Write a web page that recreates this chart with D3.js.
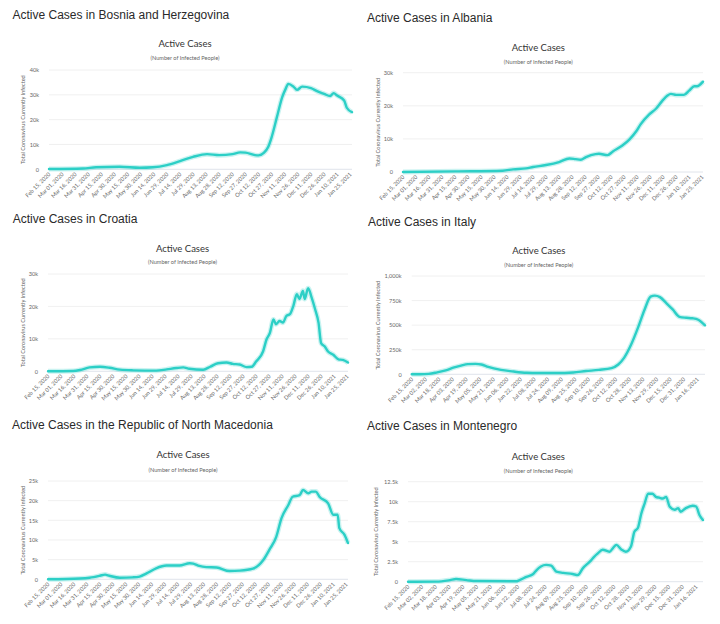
<!DOCTYPE html>
<html>
<head>
<meta charset="utf-8">
<script src="https://cdn.jsdelivr.net/npm/d3@7"></script>
<style>
  html, body { margin: 0; padding: 0; background: #fff; }
  svg { display: block; }
</style>
</head>
<body>
<svg id="chart" width="720" height="624"></svg>
<script>
// ---------- DATA ----------
const labels15 = ["Feb 15, 2020","Mar 01, 2020","Mar 16, 2020","Mar 31, 2020","Apr 15, 2020","Apr 30, 2020","May 15, 2020","May 30, 2020","Jun 14, 2020","Jun 29, 2020","Jul 14, 2020","Jul 29, 2020","Aug 13, 2020","Aug 28, 2020","Sep 12, 2020","Sep 27, 2020","Oct 12, 2020","Oct 27, 2020","Nov 11, 2020","Nov 26, 2020","Dec 11, 2020","Dec 26, 2020","Jan 10, 2021","Jan 25, 2021"];
const labels16 = ["Feb 15, 2020","Mar 02, 2020","Mar 18, 2020","Apr 03, 2020","Apr 19, 2020","May 05, 2020","May 21, 2020","Jun 06, 2020","Jun 22, 2020","Jul 08, 2020","Jul 24, 2020","Aug 09, 2020","Aug 25, 2020","Sep 10, 2020","Sep 26, 2020","Oct 12, 2020","Oct 28, 2020","Nov 13, 2020","Nov 29, 2020","Dec 15, 2020","Dec 31, 2020","Jan 16, 2021"];

// day offsets from Feb 15, 2020 and active cases
const bosniaDay = [0,39,54,81,104,119,135,150,165,181,195,210,219,225,236,240,246,251,255,261,267,271,274,280,284,290,300,307,315,322,326,330,338,341,347];
const bosniaVal = [100,300,800,1000,600,800,1700,3300,5000,6100,5700,6100,6800,6700,5700,5600,6600,9000,13000,21000,29000,32400,34400,33300,32000,33300,32700,31500,30400,29500,30700,29700,27700,24800,23000];

const albaniaDay = [0,61,115,127,142,150,165,180,192,199,205,211,222,226,236,242,253,261,269,274,284,292,299,305,309,315,324,330,336,339,346];
const albaniaVal = [0,200,400,800,1100,1500,2100,3000,4100,3900,3700,4500,5400,5500,5100,6200,8000,9800,12300,14400,17400,19200,21500,23100,23600,23300,23300,24600,25900,25900,27300];

const croatiaDay = [0,29,37,48,60,71,83,98,125,137,148,156,163,179,187,196,206,213,221,229,235,240,248,252,256,260,263,267,271,275,279,283,287,290,294,296,300,304,308,312,315,319,323,329,335,340,346];
const croatiaVal = [0,100,400,1200,1400,1100,500,300,200,600,1000,1200,800,500,1400,2500,2700,2300,2100,1300,1400,3000,6100,9800,11900,16000,14500,15500,15000,17100,17600,20200,23800,22300,24800,22300,25600,22800,19200,15000,8700,7700,6100,5100,3700,3500,2700];

const italyDay = [0,10,20,30,40,50,58,66,75,82,90,105,120,135,150,170,190,205,220,235,243,250,258,266,274,281,286,292,300,307,315,323,330,337,345];
const italyVal = [0,300,3900,20000,40000,70000,88000,103000,106000,100000,75000,45000,28000,16000,13000,12500,19000,33000,45000,63000,100000,170000,300000,470000,660000,790000,800000,785000,720000,660000,585000,575000,570000,555000,497000];

const macedoniaDay = [0,37,48,60,66,71,83,98,106,114,125,137,152,164,168,175,183,195,210,222,237,249,256,264,270,278,283,291,295,301,305,310,314,324,330,335,337,343,347];
const macedoniaVal = [0,200,400,900,1200,900,400,500,700,1500,2800,3500,3500,4100,4000,3400,3100,3000,2100,2200,2700,4900,7500,10800,15500,18900,21000,21400,22700,21900,22300,22300,21000,19300,16400,16400,13000,11300,9200];

const montenegroDay = [0,33,49,56,68,80,126,130,138,146,150,155,161,167,173,181,192,198,204,212,217,221,227,235,239,243,249,254,260,264,268,272,276,280,285,289,293,297,301,305,311,315,318,324,332,336,340,344];
const montenegroVal = [0,10,200,330,200,80,50,200,600,960,1450,1900,2100,2000,1250,1100,960,830,1700,2500,3100,3500,4000,3750,4200,4600,4000,3750,4400,6250,6700,8500,9800,11000,11000,10600,10500,10400,10600,9400,9000,9200,8750,9200,9500,9400,8300,7700];

const ticks40 = [0,10000,20000,30000,40000];
const ticks30 = [0,10000,20000,30000];
const ticks25 = [0,5000,10000,15000,20000,25000];
const ticksItaly = [0,250000,500000,750000,1000000];
const ticksMonte = [0,2500,5000,7500,10000,12500];

const kFormat = v => v === 0 ? "0" : (v / 1000).toLocaleString("en-US") + "k";

// ---------- LAYOUT ----------
const panels = [
  { title: "Active Cases in Bosnia and Herzegovina", tx: 12.5, ty: 18.5, cx: 185, cty: 46.5, csy: 60,
    l: 49, r: 352, t: 70, b: 169.3, ylx: 23, day: bosniaDay, val: bosniaVal, yt: ticks40, labels: labels15, step: 15 },
  { title: "Active Cases in Albania", tx: 367, ty: 22, cx: 538.3, cty: 50.5, csy: 64,
    l: 403, r: 703, t: 72.7, b: 172, ylx: 378, day: albaniaDay, val: albaniaVal, yt: ticks30, labels: labels15, step: 15 },
  { title: "Active Cases in Croatia", tx: 12.7, ty: 222.7, cx: 182.5, cty: 251.5, csy: 264,
    l: 48, r: 348, t: 274, b: 371.3, ylx: 23, day: croatiaDay, val: croatiaVal, yt: ticks30, labels: labels15, step: 15 },
  { title: "Active Cases in Italy", tx: 368, ty: 225.5, cx: 538.8, cty: 254, csy: 267.3,
    l: 411.7, r: 705, t: 276, b: 374.3, ylx: 378, day: italyDay, val: italyVal, yt: ticksItaly, labels: labels16, step: 16 },
  { title: "Active Cases in the Republic of North Macedonia", tx: 12, ty: 429.3, cx: 183, cty: 458, csy: 471.7,
    l: 48, r: 348, t: 481, b: 579.3, ylx: 22.7, day: macedoniaDay, val: macedoniaVal, yt: ticks25, labels: labels15, step: 15 },
  { title: "Active Cases in Montenegro", tx: 367, ty: 430, cx: 538.3, cty: 459.5, csy: 472.7,
    l: 408, r: 703, t: 481.7, b: 581.7, ylx: 376, day: montenegroDay, val: montenegroVal, yt: ticksMonte, labels: labels16, step: 16 }
];

const svg = d3.select("#chart");
svg.append("rect").attr("width", 720).attr("height", 624).attr("fill", "#fff");

const LINE = "#2ccfc6";

panels.forEach(p => {
  const g = svg.append("g");
  const data = p.day.map((d, i) => ({ d, v: p.val[i] }));
  const x = d3.scaleLinear().domain([0, d3.max(p.day)]).range([p.l, p.r]);
  const y = d3.scaleLinear().domain([0, d3.max(p.yt)]).range([p.b, p.t]);

  // panel title
  g.append("text").attr("x", p.tx).attr("y", p.ty)
    .attr("font-family", "Liberation Sans, Arial, sans-serif").attr("font-size", 12)
    .attr("fill", "#2a2a2a").text(p.title);

  // chart title + subtitle
  g.append("text").attr("x", p.cx).attr("y", p.cty).attr("text-anchor", "middle")
    .attr("font-family", "Lato, sans-serif").attr("font-size", 9.5).attr("fill", "#333")
    .text("Active Cases");
  g.append("text").attr("x", p.cx).attr("y", p.csy).attr("text-anchor", "middle")
    .attr("font-family", "Lato, sans-serif").attr("font-size", 5.6).attr("fill", "#666")
    .text("(Number of Infected People)");

  // grid lines
  g.append("g").selectAll("line").data(p.yt).join("line")
    .attr("x1", p.l).attr("x2", p.r)
    .attr("y1", d => y(d)).attr("y2", d => y(d))
    .attr("stroke", d => d === 0 ? "#d8dde6" : "#ececec").attr("stroke-width", 0.8);

  // y axis
  const ya = g.append("g").attr("transform", `translate(${p.l - 7},0)`)
    .call(d3.axisLeft(y).tickValues(p.yt).tickSize(0).tickFormat(kFormat));
  ya.select(".domain").remove();
  ya.selectAll("text").attr("font-family", "Lato, sans-serif").attr("font-size", 5.6).attr("fill", "#666");

  // y axis title
  g.append("text")
    .attr("transform", `translate(${p.ylx},${(p.t + p.b) / 2}) rotate(-90)`)
    .attr("text-anchor", "middle").attr("dy", "0.35em")
    .attr("font-family", "Lato, sans-serif").attr("font-size", 5.6).attr("fill", "#666")
    .text("Total Coronavirus Currently Infected");

  // x axis
  const tv = p.labels.map((_, i) => i * p.step);
  const xa = g.append("g").attr("transform", `translate(0,${p.b + 4})`)
    .call(d3.axisBottom(x).tickValues(tv).tickSize(0).tickFormat((d, i) => p.labels[i]));
  xa.select(".domain").remove();
  xa.selectAll("text")
    .attr("font-family", "Lato, sans-serif").attr("font-size", 5.6).attr("fill", "#666")
    .attr("text-anchor", "end").attr("dy", "0.35em").attr("y", 0)
    .attr("transform", "rotate(-45)");

  // line
  const line = d3.line().x(d => x(d.d)).y(d => y(d.v)).curve(d3.curveMonotoneX);
  g.append("path").datum(data).attr("d", line).attr("fill", "none")
    .attr("stroke", LINE).attr("stroke-opacity", 0.25).attr("stroke-width", 5)
    .attr("stroke-linejoin", "round");
  g.append("path").datum(data).attr("d", line).attr("fill", "none")
    .attr("stroke", LINE).attr("stroke-width", 2.4)
    .attr("stroke-linejoin", "round").attr("stroke-linecap", "round");
});
</script>
</body>
</html>
